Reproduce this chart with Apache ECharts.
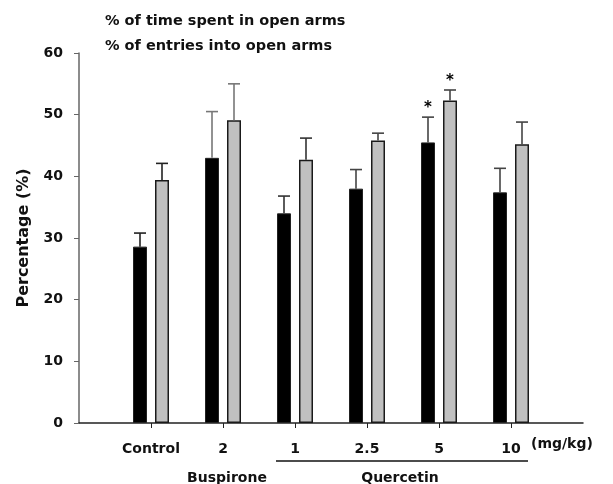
<!DOCTYPE html>
<html>
<head>
<meta charset="utf-8">
<script src="https://cdn.jsdelivr.net/npm/echarts@6/dist/echarts.min.js"></script>
<style>
  html, body { margin: 0; padding: 0; background: #fff; }
  #chart { width: 613px; height: 484px; }
</style>
</head>
<body>
<div id="chart"></div>
<script>
// groups along the x axis (doses)
const groups = ['Control', '2', '1', '2.5', '5', '10'];
const timeName = '% of time spent in open arms';
const entryName = '% of entries into open arms';
const timeMean = [28.6, 43.0, 34.0, 38.0, 45.5, 37.4];
const timeErr = [2.2, 7.5, 2.8, 3.1, 4.1, 3.9];
const entryMean = [39.4, 49.1, 42.7, 45.8, 52.3, 45.2];
const entryErr = [2.7, 5.9, 3.5, 1.2, 1.7, 3.6];
const timeSig = [0, 0, 0, 0, 1, 0];
const entrySig = [0, 0, 0, 0, 1, 0];
const yTicks = [0, 10, 20, 30, 40, 50, 60];

const FONT = '"DejaVu Sans", sans-serif';
const BAR_W = 14;
const BAR_GAP = 8;
const errColors = ['#222', '#777', '#333', '#444', '#444', '#444'];

// pad an empty slot on each side so the group ticks sit 1/7 apart
const cats = [''].concat(groups, ['']);
const pad = arr => ['-'].concat(arr, ['-']);
const errData = (mean, err, sig) => mean.map((m, i) => [i + 1, m, err[i], sig[i]]);

function errorBar(offset) {
  return function (params, api) {
    const idx = api.value(0);
    const base = api.coord([idx, api.value(1)]);
    const top = api.coord([idx, api.value(1) + api.value(2)]);
    const x = base[0] + offset;
    const color = errColors[idx - 1];
    const children = [
      { type: 'line', shape: { x1: x, y1: base[1], x2: x, y2: top[1] },
        style: { stroke: color, lineWidth: 1.6 } },
      { type: 'line', shape: { x1: x - 6, y1: top[1], x2: x + 6, y2: top[1] },
        style: { stroke: color, lineWidth: 1.6 } }
    ];
    if (api.value(3)) {
      children.push({ type: 'text', x: x, y: top[1] - 9,
        style: { text: '*', fill: '#000', font: 'bold 15px ' + FONT,
          textAlign: 'center', textVerticalAlign: 'middle' } });
    }
    return { type: 'group', children: children };
  };
}

const chart = echarts.init(document.getElementById('chart'));
chart.setOption({
  animation: false,
  grid: { left: 79, right: 30, top: 53, bottom: 61 },
  legend: {
    data: [timeName, entryName],
    orient: 'vertical',
    left: 94, top: 8,
    icon: 'rect', itemWidth: 0, itemHeight: 0, itemGap: 9,
    selectedMode: false,
    textStyle: { fontFamily: FONT, fontWeight: 'bold', fontSize: 14.5, color: '#111', lineHeight: 16 }
  },
  xAxis: {
    type: 'category',
    data: cats,
    boundaryGap: false,
    axisLine: { lineStyle: { color: '#222', width: 1.5 } },
    axisTick: { interval: (i) => i > 0 && i < cats.length - 1, length: 5, lineStyle: { color: '#222' } },
    axisLabel: {
      interval: (i) => i > 0 && i < cats.length - 1,
      margin: 19, fontFamily: FONT, fontWeight: 'bold', fontSize: 14, color: '#111'
    }
  },
  yAxis: {
    type: 'value',
    min: yTicks[0], max: yTicks[yTicks.length - 1], interval: 10,
    name: 'Percentage (%)',
    nameLocation: 'middle', nameGap: 47,
    nameTextStyle: { fontFamily: FONT, fontWeight: 'bold', fontSize: 16, color: '#111' },
    splitLine: { show: false },
    axisLine: { show: true, lineStyle: { color: '#666', width: 1.5 } },
    axisTick: { show: true, length: 5, lineStyle: { color: '#666' } },
    axisLabel: { margin: 16, fontFamily: FONT, fontWeight: 'bold', fontSize: 14, color: '#111' }
  },
  series: [
    {
      name: timeName, type: 'bar', data: pad(timeMean),
      barWidth: BAR_W, barGap: (BAR_GAP / BAR_W * 100) + '%',
      itemStyle: { color: '#000', borderColor: '#222', borderWidth: 1 }
    },
    {
      name: entryName, type: 'bar', data: pad(entryMean),
      barWidth: BAR_W, barGap: (BAR_GAP / BAR_W * 100) + '%',
      itemStyle: { color: '#c0c0c0', borderColor: '#1a1a1a', borderWidth: 1.5 }
    },
    {
      name: 'timeErr', type: 'custom', z: 3,
      renderItem: errorBar(-(BAR_W + BAR_GAP) / 2),
      encode: { x: 0, y: 1 },
      data: errData(timeMean, timeErr, timeSig)
    },
    {
      name: 'entryErr', type: 'custom', z: 3,
      renderItem: errorBar((BAR_W + BAR_GAP) / 2),
      encode: { x: 0, y: 1 },
      data: errData(entryMean, entryErr, entrySig)
    }
  ],
  graphic: [
    { type: 'text', left: 531, top: 437,
      style: { text: '(mg/kg)', font: 'bold 14px ' + FONT, fill: '#111' } },
    { type: 'line', shape: { x1: 276, y1: 461, x2: 528, y2: 461 },
      style: { stroke: '#111', lineWidth: 1.5 } },
    { type: 'text', x: 227, y: 478,
      style: { text: 'Buspirone', font: 'bold 14px ' + FONT, fill: '#111',
        textAlign: 'center', textVerticalAlign: 'middle' } },
    { type: 'text', x: 400, y: 478,
      style: { text: 'Quercetin', font: 'bold 14px ' + FONT, fill: '#111',
        textAlign: 'center', textVerticalAlign: 'middle' } }
  ]
});
</script>
</body>
</html>
